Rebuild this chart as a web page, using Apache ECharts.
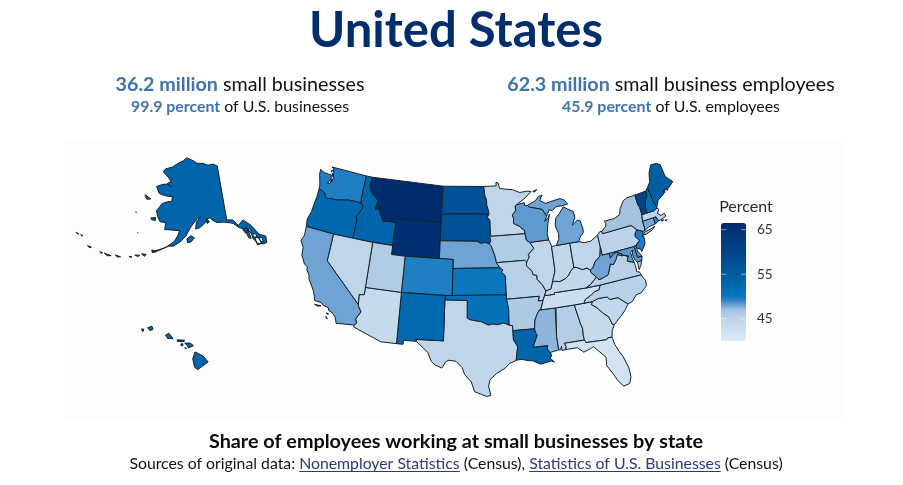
<!DOCTYPE html>
<html><head><meta charset="utf-8">
<style>html,body{margin:0;padding:0;background:#fff}#c{width:903px;height:485px}</style>
<script src="https://cdn.jsdelivr.net/npm/echarts@6/dist/echarts.min.js"></script>
</head><body><div id="c"></div>
<script>
const stateNames = ['Alabama','Alaska','Arizona','Arkansas','California','Colorado','Connecticut','Delaware','District of Columbia','Florida','Georgia','Hawaii','Idaho','Illinois','Indiana','Iowa','Kansas','Kentucky','Louisiana','Maine','Maryland','Massachusetts','Michigan','Minnesota','Mississippi','Missouri','Montana','Nebraska','Nevada','New Hampshire','New Jersey','New Mexico','New York','North Carolina','North Dakota','Ohio','Oklahoma','Oregon','Pennsylvania','Rhode Island','South Carolina','South Dakota','Tennessee','Texas','Utah','Vermont','Virginia','Washington','West Virginia','Wisconsin','Wyoming'];
const stateValues = [45.8,53,43.8,46.3,48,49.5,47.8,48.5,41,41.8,44,53,53,45,44.5,46,50.3,44.5,53,54.5,48.4,45,48,45,47.4,45.5,66,48,45,51,49.6,52,47,45.5,57,45,51,52.3,45.3,49.3,44.5,57,43,45,46,60,45.5,49.5,48,48.3,65];
const scaleMin = 40, scaleMax = 66.5;
const colorStopValues = [40,45,47,48,49,50,52,55,60,65,66.5];
const colorStopColors = ['#dde9f6','#bfd5ea','#a3c2e0','#6fa3d3','#3586c7','#0a78bf','#0069af','#005ca0','#004488','#003074','#002a6b'];
const legendTicks = [65,55,45];
const sourceParts = ['Sources of original data: ','Nonemployer Statistics',' (Census), ','Statistics of U.S. Businesses',' (Census)'];

const shapes = {
Washington:[[[-124.72,48.38],[-124.65,47.9],[-124.2,47],[-124.05,46.7],[-124,46.25],[-123.5,46.26],[-123.2,46.15],[-122.9,46.05],[-122.78,45.75],[-122.3,45.55],[-121.7,45.7],[-121.2,45.65],[-120.6,45.73],[-119.9,45.85],[-119.3,45.93],[-118.98,46],[-116.92,46],[-117.04,46.4],[-117.04,49],[-123.05,49],[-122.75,48.9],[-122.5,48.5],[-122.3,47.9],[-122.35,47.4],[-122.65,47.2],[-122.95,47.15],[-122.6,47.75],[-122.75,48.15],[-123.2,48.15],[-124,48.17]],[[-122.75,48.65],[-122.85,48.45],[-122.95,48.6]],[[-122.7,48.35],[-122.5,48.3],[-122.35,47.98],[-122.55,48.05]],[[-122.55,47.7],[-122.45,47.6],[-122.5,47.35]]],
Oregon:[[[-124,46.25],[-123.5,46.26],[-123.2,46.15],[-122.9,46.05],[-122.78,45.75],[-122.3,45.55],[-121.7,45.7],[-121.2,45.65],[-120.6,45.73],[-119.9,45.85],[-119.3,45.93],[-118.98,46],[-116.92,46],[-116.48,45.6],[-116.85,44.95],[-117.22,44.45],[-117.03,44.2],[-117.03,42],[-120,42],[-124.21,42],[-124.4,42.8],[-124.55,42.84],[-124.1,43.7],[-124.05,44.6],[-123.95,45.5]]],
Idaho:[[[-117.04,49],[-116.05,49],[-116.05,48],[-115.7,47.45],[-114.95,46.95],[-114.35,46.65],[-114.5,45.6],[-113.95,45.7],[-113.45,45.05],[-113,44.45],[-112.3,44.55],[-111.5,44.55],[-111.05,44.48],[-111.05,42],[-117.03,42],[-117.03,44.2],[-117.22,44.45],[-116.85,44.95],[-116.48,45.6],[-116.92,46],[-117.04,46.4]]],
Montana:[[[-116.05,49],[-104.05,49],[-104.05,45],[-111.05,45],[-111.05,44.48],[-111.5,44.55],[-112.3,44.55],[-113,44.45],[-113.45,45.05],[-113.95,45.7],[-114.5,45.6],[-114.35,46.65],[-114.95,46.95],[-115.7,47.45],[-116.05,48]]],
Wyoming:[[[-111.05,45],[-104.05,45],[-104.05,41],[-111.05,41]]],
'North Dakota':[[[-104.05,49],[-97.23,49],[-97.1,48],[-96.85,47.5],[-96.85,46.95],[-96.6,46.3],[-96.56,45.94],[-104.05,45.94]]],
'South Dakota':[[[-104.05,45.94],[-96.56,45.94],[-96.85,45.6],[-96.45,45.3],[-96.45,43.5],[-96.6,43.5],[-96.45,43],[-96.7,42.65],[-97.2,42.85],[-98,42.77],[-98.5,43],[-104.05,43]]],
Nebraska:[[[-104.05,43],[-98.5,43],[-98,42.77],[-97.2,42.85],[-96.7,42.65],[-96.45,42.5],[-96.1,41.7],[-95.9,41.2],[-95.77,40.58],[-95.31,40],[-102.05,40],[-102.05,41],[-104.05,41]]],
Colorado:[[[-109.05,41],[-102.05,41],[-102.05,37],[-109.05,37]]],
Kansas:[[[-102.05,40],[-95.31,40],[-94.9,39.75],[-95.1,39.5],[-94.61,39.1],[-94.62,37],[-102.05,37]]],
Oklahoma:[[[-103,37],[-94.62,37],[-94.62,36.5],[-94.43,35.4],[-94.48,33.64],[-95.2,33.9],[-96,33.75],[-96.6,33.85],[-97.2,33.75],[-97.7,33.95],[-98.1,34.13],[-99.2,34.3],[-99.7,34.4],[-100,34.56],[-100,36.5],[-103.04,36.5]]],
Texas:[[[-103.04,36.5],[-100,36.5],[-100,34.56],[-99.7,34.4],[-99.2,34.3],[-98.1,34.13],[-97.7,33.95],[-97.2,33.75],[-96.6,33.85],[-96,33.75],[-95.2,33.9],[-94.48,33.64],[-94.04,33.55],[-94.04,33],[-94.04,32],[-93.55,31.2],[-93.7,30.5],[-93.85,29.7],[-94.7,29.4],[-95.3,28.9],[-96.4,28.35],[-97.2,27.7],[-97.4,27],[-97.15,25.96],[-97.65,25.85],[-98.3,26.1],[-99.1,26.4],[-99.5,27.5],[-100.3,28.3],[-100.65,29.1],[-101.4,29.77],[-102.3,29.88],[-102.7,29.7],[-103.15,28.98],[-104,29.3],[-104.5,29.65],[-105,30.65],[-106.5,31.75],[-106.62,32],[-103.06,32]]],
'New Mexico':[[[-109.05,37],[-103,37],[-103.04,36.5],[-103.06,32],[-106.62,32],[-106.53,31.78],[-108.2,31.78],[-108.2,31.33],[-109.05,31.33]]],
Arizona:[[[-114.05,37],[-109.05,37],[-109.05,31.33],[-111.07,31.33],[-114.81,32.5],[-114.72,32.72],[-114.5,33],[-114.7,33.4],[-114.15,34.27],[-114.6,34.85],[-114.63,35],[-114.75,36.1],[-114.05,36.2]]],
Utah:[[[-114.05,42],[-111.05,42],[-111.05,41],[-109.05,41],[-109.05,37],[-114.05,37]]],
Nevada:[[[-120,42],[-114.05,42],[-114.05,36.2],[-114.75,36.1],[-114.63,35],[-120,39]]],
California:[[[-124.21,42],[-120,42],[-120,39],[-114.63,35],[-114.6,34.85],[-114.15,34.27],[-114.7,33.4],[-114.5,33],[-114.72,32.72],[-117.12,32.53],[-117.25,32.85],[-117.4,33.2],[-118,33.65],[-118.4,33.75],[-118.5,34.03],[-119.2,34.15],[-119.6,34.4],[-120.47,34.45],[-120.65,34.9],[-120.9,35.4],[-121.9,36.6],[-122,36.96],[-122.5,37.5],[-122.5,37.8],[-123,38],[-123.7,38.9],[-123.8,39.7],[-124.4,40.4],[-124.1,41]],[[-120.4,34.05],[-119.5,34.05],[-119.9,33.93]],[[-118.6,33.45],[-118.3,33.35],[-118.5,33.3]],[[-118.6,33.05],[-118.35,32.82],[-118.5,32.85]]],
Minnesota:[[[-97.23,49],[-95.15,49],[-95.15,49.38],[-94.8,49.3],[-94.6,48.7],[-93.5,48.55],[-92.5,48.45],[-91.4,48.07],[-90,48.1],[-89.5,48],[-90.8,47.3],[-92.1,46.75],[-92.3,46.65],[-92.3,46.1],[-92.9,45.7],[-92.75,45.3],[-92.8,44.75],[-92,44.4],[-91.25,43.85],[-91.22,43.5],[-96.45,43.5],[-96.45,45.3],[-96.85,45.6],[-96.56,45.94],[-96.6,46.3],[-96.85,46.95],[-96.85,47.5],[-97.1,48]]],
Iowa:[[[-96.45,43.5],[-91.22,43.5],[-91.1,42.75],[-90.65,42.5],[-90.15,41.8],[-91.05,41.2],[-90.95,40.9],[-91.4,40.4],[-91.7,40.6],[-95.77,40.58],[-95.9,41.2],[-96.1,41.7],[-96.45,42.5],[-96.7,42.65],[-96.45,43],[-96.6,43.5]]],
Missouri:[[[-95.77,40.58],[-91.7,40.6],[-91.4,40.4],[-91.5,40],[-90.75,39.3],[-90.7,38.95],[-90.15,38.8],[-90.2,38.4],[-89.55,37.7],[-89.15,37],[-89.42,36.5],[-89.7,36],[-90.37,36],[-90.15,36.5],[-94.62,36.5],[-94.62,37],[-94.61,39.1],[-95.1,39.5],[-94.9,39.75],[-95.31,40]]],
Arkansas:[[[-94.62,36.5],[-90.15,36.5],[-90.37,36],[-89.7,36],[-90.1,35.1],[-90.3,35],[-90.6,34.7],[-91.05,33.95],[-91.2,33],[-94.04,33],[-94.04,33.55],[-94.48,33.64],[-94.43,35.4]]],
Louisiana:[[[-94.04,33],[-91.2,33],[-91.1,32.5],[-90.9,32.3],[-91.6,31],[-89.73,31],[-89.85,30.65],[-89.55,30.2],[-89.4,30.05],[-89.4,29.75],[-89.6,29.6],[-89.1,29.1],[-89.5,29.25],[-90.1,29.15],[-90.9,29.05],[-91.8,29.5],[-92.3,29.55],[-93.2,29.77],[-93.85,29.7],[-93.7,30.5],[-93.55,31.2],[-94.04,32]]],
Mississippi:[[[-90.3,35],[-88.2,35],[-88.1,34.9],[-88.47,31.9],[-88.4,30.37],[-89.55,30.2],[-89.85,30.65],[-89.73,31],[-91.6,31],[-90.9,32.3],[-91.1,32.5],[-91.2,33],[-91.05,33.95],[-90.6,34.7]]],
Alabama:[[[-88.2,35],[-85.6,35],[-85.18,32.87],[-85,32.3],[-85.05,31.55],[-85,31],[-87.6,31],[-87.4,30.65],[-87.52,30.3],[-88,30.25],[-88,30.7],[-88.15,30.35],[-88.4,30.37],[-88.47,31.9],[-88.1,34.9]]],
Georgia:[[[-85.6,35],[-84.32,35],[-83.11,35],[-83.35,34.7],[-82.75,34.3],[-82,33.5],[-81.4,33],[-81.1,32.1],[-80.85,32.03],[-81.3,31.4],[-81.45,30.72],[-82,30.75],[-82.2,30.57],[-84.86,30.7],[-85,31],[-85.05,31.55],[-85,32.3],[-85.18,32.87]]],
Florida:[[[-87.6,31],[-85,31],[-84.86,30.7],[-82.2,30.57],[-82,30.75],[-81.45,30.72],[-81.3,29.9],[-80.9,29],[-80.55,28.4],[-80.1,27],[-80.05,26],[-80.35,25.3],[-81.1,25.15],[-81.7,25.9],[-82.1,26.7],[-82.75,27.8],[-82.65,28.7],[-83.4,29.5],[-84,30.1],[-84.4,29.95],[-85.3,29.7],[-86,30.3],[-87.52,30.3],[-87.4,30.65]]],
'South Carolina':[[[-83.11,35],[-82.3,35.2],[-81.05,35.15],[-81.05,35.05],[-80.8,34.82],[-79.67,34.8],[-78.55,33.86],[-79.2,33.2],[-79.9,32.7],[-80.85,32.03],[-81.1,32.1],[-81.4,33],[-82,33.5],[-82.75,34.3],[-83.35,34.7]]],
'North Carolina':[[[-84.32,35],[-83.11,35],[-82.3,35.2],[-81.05,35.15],[-81.05,35.05],[-80.8,34.82],[-79.67,34.8],[-78.55,33.86],[-77.9,34],[-77.2,34.6],[-76.5,34.65],[-75.55,35.25],[-75.5,35.8],[-75.87,36.55],[-81.68,36.59],[-82,36.1],[-82.6,36.03],[-83.1,35.75],[-84,35.4]]],
Tennessee:[[[-90.3,35],[-88.2,35],[-85.6,35],[-84.32,35],[-84,35.4],[-83.1,35.75],[-82.6,36.03],[-82,36.1],[-81.68,36.59],[-83.68,36.6],[-88.05,36.68],[-88.07,36.5],[-89.42,36.5],[-89.7,36],[-90.1,35.1]]],
Kentucky:[[[-89.42,36.5],[-88.07,36.5],[-88.05,36.68],[-83.68,36.6],[-83,36.85],[-82.3,37.3],[-81.97,37.54],[-82.6,38.17],[-82.6,38.42],[-83,38.72],[-83.7,38.65],[-84.3,38.95],[-84.82,39.1],[-85.4,38.7],[-85.8,38.27],[-86.3,38],[-87.1,37.8],[-87.7,37.9],[-88.1,37.9],[-88.45,37.15],[-89.15,37]]],
Illinois:[[[-90.65,42.5],[-87.8,42.5],[-87.55,41.9],[-87.53,41.7],[-87.53,39.35],[-87.6,38.9],[-87.95,38.2],[-88.1,37.9],[-88.45,37.15],[-89.15,37],[-89.55,37.7],[-90.2,38.4],[-90.15,38.8],[-90.7,38.95],[-90.75,39.3],[-91.5,40],[-91.4,40.4],[-90.95,40.9],[-91.05,41.2],[-90.15,41.8]]],
Indiana:[[[-87.53,41.7],[-87.2,41.75],[-86.82,41.76],[-84.8,41.76],[-84.82,39.1],[-85.4,38.7],[-85.8,38.27],[-86.3,38],[-87.1,37.8],[-87.7,37.9],[-88.1,37.9],[-87.95,38.2],[-87.6,38.9],[-87.53,39.35]]],
Ohio:[[[-84.8,41.76],[-83.45,41.73],[-82.7,41.5],[-81.7,41.5],[-80.52,41.98],[-80.52,40.64],[-80.85,39.7],[-81.7,39.2],[-82.2,38.6],[-82.6,38.42],[-83,38.72],[-83.7,38.65],[-84.3,38.95],[-84.82,39.1]]],
Michigan:[[[-86.82,41.76],[-84.8,41.76],[-83.45,41.73],[-83.1,42.2],[-82.5,42.6],[-82.45,43],[-82.6,43.9],[-83,44.07],[-83.9,43.65],[-83.3,44.4],[-83.35,45.05],[-84.75,45.78],[-85.5,45.2],[-86.25,44.7],[-86.5,43.9],[-86.2,43],[-86.3,42.4]],[[-90.4,46.55],[-89,46.95],[-88.4,47.37],[-87.8,47.45],[-88.3,46.9],[-87.4,46.5],[-86.2,46.65],[-85,46.75],[-84.4,46.5],[-84,46],[-84.75,45.95],[-85.9,45.95],[-86.6,45.6],[-87,45.75],[-87.6,45.1],[-88.1,45.9],[-89.1,46.13],[-90.1,46.35]],[[-89.2,48],[-88.5,48.15],[-88.9,47.9]]],
Wisconsin:[[[-92.1,46.75],[-90.8,46.9],[-90.8,46.6],[-90.4,46.55],[-90.1,46.35],[-89.1,46.13],[-88.1,45.9],[-87.6,45.1],[-88,44.55],[-87.4,44.9],[-87.1,45.25],[-87.55,44.3],[-87.9,43.2],[-87.8,42.5],[-90.65,42.5],[-91.1,42.75],[-91.22,43.5],[-91.25,43.85],[-92,44.4],[-92.8,44.75],[-92.75,45.3],[-92.9,45.7],[-92.3,46.1],[-92.3,46.65]]],
Pennsylvania:[[[-80.52,41.98],[-80.1,42.27],[-79.76,42.27],[-79.76,42],[-75.35,42],[-75.05,41.75],[-74.7,41.36],[-75.1,41],[-75.2,40.7],[-74.75,40.2],[-75.4,39.8],[-75.79,39.72],[-79.48,39.72],[-80.52,39.72],[-80.52,40.64]]],
'New York':[[[-79.76,42.27],[-79,42.7],[-78.9,43],[-79.05,43.27],[-77.5,43.25],[-76.5,43.5],[-76.2,44.1],[-75.3,44.85],[-74.7,45],[-73.35,45],[-73.4,44],[-73.25,43.55],[-73.28,42.75],[-73.5,42.05],[-73.5,41.3],[-73.65,41],[-73.9,40.99],[-74.7,41.36],[-75.05,41.75],[-75.35,42],[-79.76,42]],[[-74.03,40.6],[-73.75,40.85],[-72.6,40.98],[-72,41.1],[-72.5,40.82],[-73.6,40.58]]],
'New Jersey':[[[-74.7,41.36],[-73.9,40.99],[-74.05,40.65],[-74.25,40.5],[-74,40.45],[-74.1,39.75],[-74.4,39.4],[-74.9,38.95],[-74.95,39.2],[-75.5,39.5],[-75.4,39.8],[-74.75,40.2],[-75.2,40.7],[-75.1,41]]],
Delaware:[[[-75.79,39.72],[-75.4,39.8],[-75.55,39.45],[-75.4,39.05],[-75.05,38.45],[-75.7,38.46]]],
Maryland:[[[-79.48,39.72],[-75.79,39.72],[-75.7,38.46],[-75.05,38.45],[-75.25,38.03],[-75.9,37.95],[-76.2,38.4],[-76.3,39],[-76.1,39.4],[-76.5,39.2],[-76.45,38.5],[-76.35,38.05],[-76.9,38.25],[-77.25,38.4],[-77.04,38.79],[-76.91,38.89],[-77.04,38.99],[-77.12,38.93],[-77.5,39.1],[-77.75,39.32],[-78.4,39.62],[-78.8,39.6],[-79.48,39.2]]],
'District of Columbia':[[[-77.12,38.93],[-77.04,38.99],[-76.91,38.89],[-77.04,38.79]]],
Virginia:[[[-83.68,36.6],[-81.68,36.59],[-75.87,36.55],[-76,36.9],[-76.35,37],[-76.3,37.55],[-76.35,38.05],[-76.9,38.25],[-77.25,38.4],[-77.04,38.79],[-77.12,38.93],[-77.5,39.1],[-77.83,39.13],[-78.35,39.4],[-78.87,38.77],[-79.3,38.42],[-79.65,38.6],[-80.3,37.5],[-81.25,37.25],[-81.68,37.2],[-81.97,37.54],[-82.3,37.3],[-83,36.85]],[[-75.25,38.03],[-75.9,37.95],[-75.95,37.15],[-75.6,37.5]]],
'West Virginia':[[[-80.52,40.64],[-80.52,39.72],[-79.48,39.72],[-79.48,39.2],[-78.8,39.6],[-78.4,39.62],[-77.75,39.32],[-77.83,39.13],[-78.35,39.4],[-78.87,38.77],[-79.3,38.42],[-79.65,38.6],[-80.3,37.5],[-81.25,37.25],[-81.68,37.2],[-81.97,37.54],[-82.6,38.17],[-82.6,38.42],[-82.2,38.6],[-81.7,39.2],[-80.85,39.7]]],
Connecticut:[[[-73.5,42.05],[-71.8,42.02],[-71.8,41.32],[-72.9,41.25],[-73.65,41],[-73.5,41.3]]],
'Rhode Island':[[[-71.8,42.02],[-71.38,42.02],[-71.2,41.5],[-71.8,41.32]]],
Massachusetts:[[[-73.28,42.75],[-71.3,42.7],[-70.8,42.87],[-70.6,42.65],[-71,42.3],[-70.6,41.95],[-70.05,42.05],[-69.95,41.7],[-70.65,41.55],[-71.2,41.5],[-71.38,42.02],[-71.8,42.02],[-73.5,42.05]],[[-70.85,41.45],[-70.45,41.4],[-70.7,41.33]],[[-70.3,41.32],[-69.95,41.3],[-70.1,41.22]]],
Vermont:[[[-73.35,45],[-71.5,45.01],[-71.6,44.5],[-72.05,44.1],[-72.35,43.5],[-72.46,42.73],[-73.28,42.75],[-73.25,43.55],[-73.4,44]]],
'New Hampshire':[[[-71.5,45.01],[-71.08,45.3],[-70.98,43.4],[-70.7,43.07],[-70.8,42.87],[-71.3,42.7],[-72.46,42.73],[-72.35,43.5],[-72.05,44.1],[-71.6,44.5]]],
Maine:[[[-71.08,45.3],[-70.4,45.8],[-70.25,46.2],[-70,46.7],[-69.25,47.45],[-68.3,47.35],[-67.8,47.07],[-67.8,45.7],[-67.45,45.3],[-67,44.85],[-68,44.4],[-68.8,44.4],[-69.1,44],[-70.2,43.6],[-70.7,43.07],[-70.98,43.4]],[[-68.95,44.35],[-68.7,44.3],[-68.85,44.05]],[[-68.45,44.4],[-68.2,44.3],[-68.35,44.2]]],
Alaska:[[[-141,69.65],[-143,70.1],[-145.5,70],[-148,70.4],[-151,70.45],[-153,70.9],[-156.5,71.35],[-158,70.8],[-160,70.4],[-163,69.5],[-166.2,68.9],[-166.8,68.35],[-164,67.6],[-162.5,67],[-164,66.55],[-162,66.1],[-164,66.45],[-166,66.2],[-168.1,65.65],[-166.4,64.6],[-165.4,64.5],[-162.8,64.4],[-161,64.5],[-161,63.6],[-162.5,63.5],[-164.5,63],[-165,62.5],[-166,61.6],[-165,60.6],[-164,59.9],[-162,59.9],[-162,58.7],[-160,58.8],[-158.5,58.8],[-157.1,58.85],[-157.5,58],[-158.5,56.9],[-160.5,55.9],[-162.8,55],[-164.5,54.6],[-163,55.1],[-161.5,55.5],[-160,56],[-158.5,56.1],[-156.5,57],[-155,57.9],[-154,59],[-153.2,59.7],[-152,60.5],[-151,61],[-150,61.25],[-151.5,60.4],[-151.8,59.2],[-150.5,59.4],[-149,60],[-148,60.5],[-148,60.9],[-146.5,61],[-146,60.6],[-144.5,60.1],[-142,60],[-140,59.7],[-139,59.5],[-137.5,58.6],[-136,58.2],[-135,58.1],[-134,57],[-134,56.2],[-133,55.2],[-131.5,54.8],[-130.4,54.8],[-130,55.9],[-131.8,56.6],[-133.4,58.4],[-135.5,59.7],[-137.5,59],[-139,60.1],[-141,60.3]],[[-154.6,57.5],[-153.3,58.05],[-152.2,57.7],[-153.2,57],[-154.3,56.85]],[[-167.3,60.2],[-165.7,60.45],[-165.7,59.9],[-167,59.95]],[[-171.7,63.75],[-169,63.35],[-170.5,63.1]],[[-172.9,60.5],[-172.5,60.45],[-172.7,60.35]],[[-133.3,56.3],[-132.2,56],[-131.9,55],[-133.2,54.9]],[[-135.6,57.7],[-134.8,57.9],[-134.5,56.3],[-135.2,56.5]],[[-136.4,58.1],[-135,58.4],[-134.8,57.8],[-135.8,57.4]],[[-134.7,57.9],[-133.9,58],[-134,57.1]],[[-133.9,56.9],[-132.9,56.9],[-132.6,56.3],[-133.4,56.3]],[[-132.2,56],[-131.2,55.9],[-131.3,55.1],[-131.9,55.3]],[[-147.9,60.85],[-147,60.35],[-147.9,60.1]],[[-170.3,57.2],[-170.1,57.2],[-170.2,57.1]],[[-164.9,54.9],[-163.4,54.75],[-164.6,54.45]],[[-167.6,53.85],[-166.3,53.95],[-166.6,53.55]],[[-169.4,53.35],[-168,53.55],[-168.4,53.25]],[[-170.9,52.9],[-170,52.9],[-170.4,52.78]],[[-174.7,52.35],[-173.1,52.35],[-174,52.15]],[[-177.7,51.95],[-175.7,52],[-176.7,51.75]],[[-179,51.9],[-178.2,51.88],[-178.7,51.72]],[[-182.8,51.9],[-181.7,52],[-181.9,51.75]],[[-185.9,53],[-185.2,53.05],[-185.4,52.88]],[[-187.4,52.95],[-186.5,52.95],[-186.9,52.82]]],
Hawaii:[[[-155.85,20.27],[-155.2,19.95],[-154.8,19.5],[-155.65,18.92],[-155.9,19.1],[-156.05,19.75]],[[-156.7,20.95],[-156.25,20.95],[-155.98,20.75],[-156.4,20.58],[-156.5,20.8]],[[-158.27,21.55],[-158,21.7],[-157.65,21.3],[-158.1,21.3]],[[-159.75,22.1],[-159.4,22.23],[-159.3,22],[-159.55,21.88]],[[-157.3,21.2],[-156.7,21.17],[-156.75,21.07],[-157.3,21.08]],[[-157,20.9],[-156.85,20.9],[-156.85,20.75],[-157,20.75]],[[-160.25,22],[-160.05,21.98],[-160.15,21.78]],[[-156.7,20.58],[-156.55,20.58],[-156.6,20.5]]]
};

// Lambert azimuthal equal-area, one frame each for the lower 48, Alaska and Hawaii
const rad = Math.PI / 180;
function lambert(lon, lat, lon0, lat0) {
  const dl = (lon - lon0) * rad, p = lat * rad, p0 = lat0 * rad;
  const k = Math.sqrt(2 / (1 + Math.sin(p0) * Math.sin(p) + Math.cos(p0) * Math.cos(p) * Math.cos(dl)));
  return [k * Math.cos(p) * Math.sin(dl), k * (Math.cos(p0) * Math.sin(p) - Math.sin(p0) * Math.cos(p) * Math.cos(dl))];
}
const frames = {
  lower: {lon0: -100, lat0: 45, s: 521.6, x: 467.2, y: 223.2},
  alaska: {lon0: -152, lat0: 64, s: 335, x: 195, y: 201},
  hawaii: {lon0: -157, lat0: 20.5, s: 750, x: 181, y: 349}
};
function project(pt) {
  const f = pt[1] > 50 ? frames.alaska : (pt[1] < 23 && pt[0] < -150 ? frames.hawaii : frames.lower);
  const q = lambert(pt[0], pt[1], f.lon0, f.lat0);
  return [f.x + f.s * q[0], f.y - f.s * q[1]];
}
const features = Object.keys(shapes).map(name => ({
  type: 'Feature', properties: {name},
  geometry: {type: 'MultiPolygon', coordinates: shapes[name].map(r => [r.concat([r[0]])])}
}));
echarts.registerMap('usa', {type: 'FeatureCollection', features});

let x0 = 1e9, y0 = 1e9, x1 = -1e9, y1 = -1e9;
Object.values(shapes).forEach(rs => rs.forEach(r => r.forEach(p => {
  const q = project(p); x0 = Math.min(x0, q[0]); x1 = Math.max(x1, q[0]); y0 = Math.min(y0, q[1]); y1 = Math.max(y1, q[1]);
})));

function colorAt(v) {
  for (let i = 1; i < colorStopValues.length; i++) {
    if (v <= colorStopValues[i]) {
      const t = (v - colorStopValues[i - 1]) / (colorStopValues[i] - colorStopValues[i - 1]);
      return echarts.color.lerp(t, [colorStopColors[i - 1], colorStopColors[i]]);
    }
  }
  return colorStopColors[colorStopColors.length - 1];
}
const ramp = [];
for (let v = scaleMin; v <= scaleMax; v += 0.5) ramp.push(colorAt(v));

const FONT = 'Lato';
const blue = '#3f74ad', ink = '#111111', linkInk = '#2b3a7a';
const barLeft = 721, barTop = 223, barW = 25, barH = 118;
const tickY = v => barTop + (scaleMax - v) / (scaleMax - scaleMin) * barH;

const srcFont = `15.8px ${FONT}`, srcCenter = 456, srcUnderlineY = 471.5;
const mctx = document.createElement('canvas').getContext('2d');
function srcUnderlines() {
  mctx.font = srcFont;
  const w = sourceParts.map(s => mctx.measureText(s).width);
  const total = w.reduce((a, b) => a + b, 0);
  let x = srcCenter - total / 2;
  const out = [];
  sourceParts.forEach((s, i) => {
    if (i === 1 || i === 3) out.push({type: 'line', z: 100, shape: {x1: x, y1: srcUnderlineY, x2: x + w[i], y2: srcUnderlineY}, style: {stroke: linkInk, lineWidth: 1}});
    x += w[i];
  });
  return out;
}
function twoTone(x, y, strong, rest, size) {
  return {type: 'text', z: 100, x, y, style: {text: `{a|${strong}}{b| ${rest}}`, align: 'center', verticalAlign: 'middle',
    rich: {a: {font: `bold ${size}px ${FONT}`, fill: blue}, b: {font: `${size}px ${FONT}`, fill: ink}}}};
}
const graphics = [
  {type: 'rect', z: -1, shape: {x: 65, y: 140, width: 780, height: 280}, style: {fill: '#fdfdfd'}},
  {type: 'text', z: 100, x: 456, y: 31, style: {text: 'United States', font: `bold 49px ${FONT}`, fill: '#002e6d', align: 'center', verticalAlign: 'middle'}},
  twoTone(240, 85, '36.2 million', 'small businesses', 19.7),
  twoTone(240, 107, '99.9 percent', 'of U.S. businesses', 15.9),
  twoTone(671, 85, '62.3 million', 'small business employees', 19.7),
  twoTone(671, 107, '45.9 percent', 'of U.S. employees', 15.9),
  {type: 'text', z: 100, x: 456, y: 442, style: {text: 'Share of employees working at small businesses by state', font: `bold 19.8px ${FONT}`, fill: '#0a0a0a', align: 'center', verticalAlign: 'middle'}},
  {type: 'text', z: 100, x: srcCenter, y: 464, style: {
    text: sourceParts.map((s, i) => `{${i % 2 ? 'l' : 'b'}|${s}}`).join(''), align: 'center', verticalAlign: 'middle',
    rich: {b: {font: srcFont, fill: ink}, l: {font: srcFont, fill: linkInk}}}},
  ...srcUnderlines(),
  {type: 'text', z: 100, x: 746, y: 207, style: {text: 'Percent', font: `16px ${FONT}`, fill: '#2a2a2a', align: 'center', verticalAlign: 'middle'}}
];
legendTicks.forEach(v => {
  const y = tickY(v);
  graphics.push({type: 'text', z: 100, x: 757, y, style: {text: String(v), font: `13.5px ${FONT}`, fill: '#333', align: 'left', verticalAlign: 'middle'}});
  graphics.push({type: 'line', z: 100, shape: {x1: barLeft, y1: y, x2: barLeft + 5, y2: y}, style: {stroke: 'rgba(255,255,255,.55)', lineWidth: 1}});
  graphics.push({type: 'line', z: 100, shape: {x1: barLeft + barW - 5, y1: y, x2: barLeft + barW, y2: y}, style: {stroke: 'rgba(255,255,255,.55)', lineWidth: 1}});
});

const chart = echarts.init(document.getElementById('c'), null, {renderer: 'canvas'});
chart.setOption({
  animation: false,
  backgroundColor: '#ffffff',
  visualMap: {
    type: 'continuous', min: scaleMin, max: scaleMax, left: barLeft, top: barTop,
    itemWidth: barW, itemHeight: barH, calculable: false, hoverLink: false, text: null, showLabel: false,
    inRange: {color: ramp}, seriesIndex: 0, textStyle: {color: 'transparent', fontSize: 1}, padding: 0
  },
  graphic: {elements: graphics},
  series: [{
    type: 'map', map: 'usa', roam: false, silent: true,
    projection: {project, unproject: p => p},
    left: x0, top: y0, width: x1 - x0, height: y1 - y0,
    label: {show: false},
    itemStyle: {borderColor: '#14202c', borderWidth: 1},
    emphasis: {disabled: true}, select: {disabled: true},
    data: stateNames.map((name, i) => ({name, value: stateValues[i]}))
  }]
});
</script></body></html>
